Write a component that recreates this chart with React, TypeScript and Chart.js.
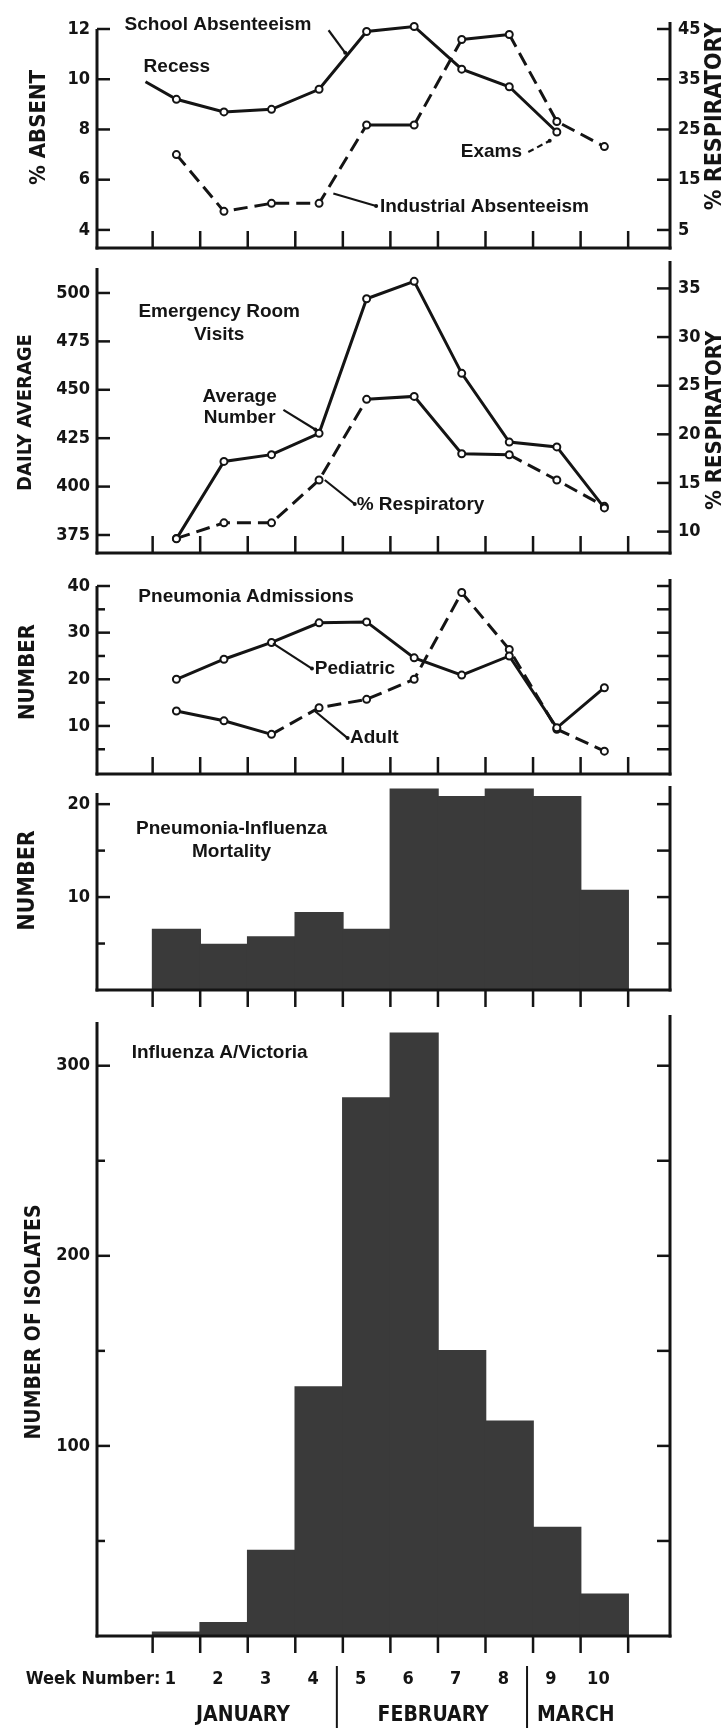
import { useEffect, useRef } from 'react';
import { Chart, registerables } from 'chart.js';

Chart.register(...registerables);

const INK = '#141414';
const BAR = '#3a3a3a';
const NARROW = '"Liberation Sans Narrow", "DejaVu Sans Condensed", "Liberation Sans", sans-serif';
const SANS = '"Liberation Sans", Arial, sans-serif';

// weeks 1..10, tick marks sit on the week borders
const weeks = [1, 2, 3, 4, 5, 6, 7, 8, 9, 10];
const weekEdges = [0.5, 1.5, 2.5, 3.5, 4.5, 5.5, 6.5, 7.5, 8.5, 9.5, 10.5];
const months = ['JANUARY', 'FEBRUARY', 'MARCH'];
const monthCenters = [2.4, 6.4, 9.4];
const monthBreaks = [4.5, 8.5];

// panel 1: absenteeism (school curve starts before week 1, unmarked)
const schoolWeeks = [0.35, 1, 2, 3, 4, 5, 6, 7, 8, 9];
const schoolAbsent = [9.9, 9.2, 8.7, 8.8, 9.6, 11.9, 12.1, 10.4, 9.7, 7.9];
const industrialResp = [20, 8.7, 10.3, 10.3, 25.9, 25.9, 42.9, 43.9, 26.6, 21.6];
const absentTicks = [4, 6, 8, 10, 12];
const absentRespTicks = [5, 15, 25, 35, 45];

// panel 2: emergency room visits
const erAverage = [373, 413, 416.5, 427.5, 497, 506, 458.5, 423, 420.5, 389];
const erResp = [9.3, 10.9, 10.9, 15.3, 23.6, 23.9, 18, 17.9, 15.3, 12.6];
const erTicks = [375, 400, 425, 450, 475, 500];
const erRespTicks = [10, 15, 20, 25, 30, 35];

// panel 3: pneumonia admissions
const pediatric = [20, 24.3, 27.9, 32.1, 32.3, 24.6, 20.9, 25, 9.6, 18.2];
const adult = [13.2, 11.1, 8.2, 13.9, 15.7, 20, 38.6, 26.4, 9.3, 4.6];
const admissionTicks = [10, 20, 30, 40];
const admissionMinor = [5, 15, 25, 35];

// panel 4: pneumonia-influenza mortality
const mortality = [6.5, 4.9, 5.7, 8.3, 6.5, 21.6, 20.8, 21.6, 20.8, 10.7];
const mortalityTicks = [10, 20];
const mortalityMinor = [5, 15];

// panel 5: influenza A/Victoria isolates
const isolates = [2, 7, 45, 131, 283, 317, 150, 113, 57, 22];
const isolateTicks = [100, 200, 300];
const isolateMinor = [50, 150, 250];

type AxisId = 'y' | 'y1';
type Note = { text: string; x: number; y: number; axis?: AxisId; align?: CanvasTextAlign };
type Leader = { from: [number, number]; to: [number, number]; axis?: AxisId; dashed?: boolean };
type Title = { text: string; x: number; dy: number; size?: number };
type Spec = {
  leftMinor?: number[];
  rightTicks?: number[];
  xOutside?: boolean;
  leftTitle: Title;
  rightTitle?: Title;
  notes?: Note[];
  leaders?: Leader[];
  weekAxis?: boolean;
};

const lineStyle = {
  borderColor: INK,
  borderWidth: 3,
  pointRadius: 3.5,
  pointBorderWidth: 2,
  pointBackgroundColor: '#fff',
  pointBorderColor: INK,
  tension: 0,
  fill: false,
  clip: false as const,
};

const barStyle = {
  backgroundColor: BAR,
  borderWidth: 0,
  inflateAmount: 0.8,
  barPercentage: 1,
  categoryPercentage: 1,
  clip: false as const,
};

const dashOn = (idx: number[]) => (ctx: any) => (idx.includes(ctx.p0DataIndex) ? [14, 7] : undefined);

const xAxis = () => ({ type: 'linear' as const, min: -0.67, max: 11.38, display: false, offset: false });

const yAxis = (position: 'left' | 'right', min: number, max: number, ticks: number[], width: number) => ({
  type: 'linear' as const,
  position,
  min,
  max,
  grid: { display: false, drawTicks: false },
  border: { display: false },
  ticks: {
    autoSkip: false,
    padding: position === 'left' ? 7 : 8,
    color: INK,
    font: { family: NARROW, size: 18, weight: 'bold' as const },
  },
  afterBuildTicks: (axis: any) => {
    axis.ticks = ticks.map((value) => ({ value }));
  },
  afterFit: (axis: any) => {
    axis.width = width;
    axis.paddingTop = 0;
    axis.paddingBottom = 0;
  },
});

const baseOptions = (padding: { top: number; bottom: number; right: number }, scales: any) => ({
  responsive: true,
  maintainAspectRatio: false,
  animation: false as const,
  events: [],
  layout: { padding: { left: 0, ...padding } },
  plugins: { legend: { display: false }, tooltip: { enabled: false } },
  scales,
});

function makePaper(spec: Spec) {
  return {
    id: 'paper',
    afterDatasetsDraw(chart: any) {
      const { ctx, chartArea: a } = chart;
      const sx = chart.scales.x;
      const sy = chart.scales.y;
      const sy1 = chart.scales.y1;
      const pick = (axis?: AxisId) => (axis === 'y1' && sy1 ? sy1 : sy);
      const seg = (x1: number, y1: number, x2: number, y2: number) => {
        ctx.beginPath();
        ctx.moveTo(x1, y1);
        ctx.lineTo(x2, y2);
        ctx.stroke();
      };
      ctx.save();
      ctx.strokeStyle = INK;
      ctx.fillStyle = INK;
      ctx.lineCap = 'butt';

      // frame: left, right and bottom border, no top
      ctx.lineWidth = 3;
      seg(a.left, a.top, a.left, a.bottom + 1.5);
      seg(a.right, a.top - 7, a.right, a.bottom + 1.5);
      seg(a.left - 1.5, a.bottom, a.right + 1.5, a.bottom);

      // inner tick marks
      ctx.lineWidth = 2.5;
      sy.ticks.forEach((t: any) => {
        const py = sy.getPixelForValue(t.value);
        seg(a.left, py, a.left + 13, py);
      });
      (spec.leftMinor ?? []).forEach((v) => {
        const py = sy.getPixelForValue(v);
        seg(a.left, py, a.left + 8, py);
      });
      const rs = sy1 ?? sy;
      const rightVals: number[] = sy1 ? sy1.ticks.map((t: any) => t.value) : spec.rightTicks ?? [];
      rightVals.forEach((v) => {
        const py = rs.getPixelForValue(v);
        seg(a.right - 13, py, a.right, py);
      });
      weekEdges.forEach((v) => {
        const px = sx.getPixelForValue(v);
        if (spec.xOutside) seg(px, a.bottom, px, a.bottom + 17);
        else seg(px, a.bottom, px, a.bottom - 17);
      });

      // leader lines from labels to curves
      ctx.lineWidth = 2.2;
      (spec.leaders ?? []).forEach((l) => {
        const s = pick(l.axis);
        const x1 = sx.getPixelForValue(l.from[0]);
        const y1 = s.getPixelForValue(l.from[1]);
        const x2 = sx.getPixelForValue(l.to[0]);
        const y2 = s.getPixelForValue(l.to[1]);
        ctx.setLineDash(l.dashed ? [6, 4] : []);
        seg(x1, y1, x2, y2);
        ctx.setLineDash([]);
        ctx.beginPath();
        ctx.arc(x2, y2, 2, 0, Math.PI * 2);
        ctx.fill();
      });

      // text labels inside the plot
      ctx.font = `bold 19px ${SANS}`;
      ctx.textBaseline = 'middle';
      (spec.notes ?? []).forEach((n) => {
        ctx.textAlign = n.align ?? 'left';
        ctx.fillText(n.text, sx.getPixelForValue(n.x), pick(n.axis).getPixelForValue(n.y));
      });

      // rotated axis titles, reading upward
      const title = (t: Title) => {
        ctx.save();
        ctx.font = `bold ${t.size ?? 20}px ${NARROW}`;
        ctx.textAlign = 'center';
        ctx.textBaseline = 'middle';
        ctx.translate(t.x, (a.top + a.bottom) / 2 + t.dy);
        ctx.rotate(-Math.PI / 2);
        ctx.fillText(t.text, 0, 0);
        ctx.restore();
      };
      title(spec.leftTitle);
      if (spec.rightTitle) title(spec.rightTitle);

      // week numbers and months under the last panel
      if (spec.weekAxis) {
        ctx.font = `bold 18px ${NARROW}`;
        ctx.textBaseline = 'middle';
        ctx.textAlign = 'center';
        weeks.forEach((w) => ctx.fillText(String(w), sx.getPixelForValue(w) - 6, a.bottom + 43));
        ctx.textAlign = 'right';
        ctx.fillText('Week Number:', sx.getPixelForValue(1) - 16, a.bottom + 43);
        ctx.font = `bold 21px ${NARROW}`;
        ctx.textAlign = 'center';
        months.forEach((m, i) => ctx.fillText(m, sx.getPixelForValue(monthCenters[i]), a.bottom + 80));
        ctx.lineWidth = 2;
        monthBreaks.forEach((b) => {
          const px = sx.getPixelForValue(b) - 6;
          seg(px, a.bottom + 30, px, chart.height);
        });
      }
      ctx.restore();
    },
  };
}

const pts = (xs: number[], ys: number[]) => xs.map((x, i) => ({ x, y: ys[i] }));

function absenceChart() {
  return {
    type: 'line' as const,
    data: {
      datasets: [
        {
          label: 'School Absenteeism',
          data: pts(schoolWeeks, schoolAbsent),
          yAxisID: 'y',
          ...lineStyle,
          pointRadius: (c: any) => (c.dataIndex === 0 ? 0 : 3.5),
        },
        {
          label: 'Industrial Absenteeism',
          data: pts(weeks, industrialResp),
          yAxisID: 'y1',
          ...lineStyle,
          segment: { borderDash: dashOn([0, 1, 2, 3, 5, 7, 8]) },
        },
      ],
    },
    options: baseOptions({ top: 29, bottom: 10, right: 0 }, {
      x: xAxis(),
      y: yAxis('left', 3.28, 12, absentTicks, 97),
      y1: yAxis('right', 1.41, 45, absentRespTicks, 57),
    }),
    plugins: [
      makePaper({
        leftTitle: { text: '% ABSENT', x: 39, dy: -11, size: 22 },
        rightTitle: { text: '% RESPIRATORY', x: 715, dy: -22, size: 23 },
        notes: [
          { text: 'School Absenteeism', x: -0.09, y: 12.15 },
          { text: 'Recess', x: 0.31, y: 10.5 },
          { text: 'Exams', x: 6.98, y: 7.1 },
          { text: 'Industrial Absenteeism', x: 5.28, y: 4.92 },
        ],
        leaders: [
          { from: [4.2, 11.95], to: [4.55, 11.05] },
          { from: [8.4, 7.1], to: [8.85, 7.55], dashed: true },
          { from: [4.3, 5.45], to: [5.2, 4.95] },
        ],
      }),
    ],
  };
}

function erChart() {
  return {
    type: 'line' as const,
    data: {
      datasets: [
        { label: 'Average Number', data: pts(weeks, erAverage), yAxisID: 'y', ...lineStyle },
        {
          label: '% Respiratory',
          data: pts(weeks, erResp),
          yAxisID: 'y1',
          ...lineStyle,
          segment: { borderDash: dashOn([0, 1, 2, 3, 7, 8]) },
        },
      ],
    },
    options: baseOptions({ top: 10, bottom: 12, right: 0 }, {
      x: xAxis(),
      y: yAxis('left', 365.7, 512.9, erTicks, 97),
      y1: yAxis('right', 7.8, 37.1, erRespTicks, 57),
    }),
    plugins: [
      makePaper({
        leftTitle: { text: 'DAILY AVERAGE', x: 26, dy: 2, size: 20 },
        rightTitle: { text: '% RESPIRATORY', x: 715, dy: 10, size: 22 },
        notes: [
          { text: 'Emergency Room', x: 1.9, y: 490.3, align: 'center' },
          { text: 'Visits', x: 1.9, y: 478.3, align: 'center' },
          { text: 'Average', x: 2.33, y: 446.4, align: 'center' },
          { text: 'Number', x: 2.33, y: 435.3, align: 'center' },
          { text: '% Respiratory', x: 4.79, y: 390.5 },
        ],
        leaders: [
          { from: [3.25, 439.6], to: [3.92, 429.5] },
          { from: [4.12, 403.4], to: [4.75, 391] },
        ],
      }),
    ],
  };
}

function admissionsChart() {
  return {
    type: 'line' as const,
    data: {
      datasets: [
        { label: 'Pediatric', data: pts(weeks, pediatric), yAxisID: 'y', ...lineStyle },
        {
          label: 'Adult',
          data: pts(weeks, adult),
          yAxisID: 'y',
          ...lineStyle,
          segment: { borderDash: dashOn([2, 3, 4, 5, 6, 7, 8]) },
        },
      ],
    },
    options: baseOptions({ top: 21, bottom: 5, right: 57 }, {
      x: xAxis(),
      y: yAxis('left', -0.3, 40, admissionTicks, 97),
    }),
    plugins: [
      makePaper({
        leftMinor: admissionMinor,
        rightTicks: [5, 10, 15, 20, 25, 30, 35, 40],
        leftTitle: { text: 'NUMBER', x: 28, dy: -8, size: 22 },
        notes: [
          { text: 'Pneumonia Admissions', x: 0.2, y: 37.7 },
          { text: 'Pediatric', x: 3.91, y: 22.3 },
          { text: 'Adult', x: 4.65, y: 7.4 },
        ],
        leaders: [
          { from: [3.03, 27.7], to: [3.85, 22.3] },
          { from: [3.91, 13.2], to: [4.6, 7.4] },
        ],
      }),
    ],
  };
}

function mortalityChart() {
  return {
    type: 'bar' as const,
    data: { datasets: [{ label: 'Pneumonia-Influenza Mortality', data: pts(weeks, mortality), ...barStyle }] },
    options: baseOptions({ top: 13, bottom: 22, right: 57 }, {
      x: xAxis(),
      y: yAxis('left', 0, 21.2, mortalityTicks, 97),
    }),
    plugins: [
      makePaper({
        leftMinor: mortalityMinor,
        rightTicks: [5, 10, 15, 20],
        xOutside: true,
        leftTitle: { text: 'NUMBER', x: 28, dy: -11, size: 23 },
        notes: [
          { text: 'Pneumonia-Influenza', x: 2.16, y: 17.4, align: 'center' },
          { text: 'Mortality', x: 2.16, y: 14.9, align: 'center' },
        ],
      }),
    ],
  };
}

function isolatesChart() {
  return {
    type: 'bar' as const,
    data: { datasets: [{ label: 'Influenza A/Victoria', data: pts(weeks, isolates), ...barStyle }] },
    options: baseOptions({ top: 10, bottom: 92, right: 57 }, {
      x: xAxis(),
      y: yAxis('left', 0, 323, isolateTicks, 97),
    }),
    plugins: [
      makePaper({
        leftMinor: isolateMinor,
        rightTicks: [50, 100, 150, 200, 250, 300],
        xOutside: true,
        weekAxis: true,
        leftTitle: { text: 'NUMBER OF ISOLATES', x: 35, dy: -7, size: 21 },
        notes: [{ text: 'Influenza A/Victoria', x: 0.06, y: 307 }],
      }),
    ],
  };
}

function Panel({ top, height, make }: { top: number; height: number; make: () => any }) {
  const canvasRef = useRef<HTMLCanvasElement>(null);

  useEffect(() => {
    const canvas = canvasRef.current;
    if (!canvas) return;
    const chart = new Chart(canvas, make());
    return () => chart.destroy();
  }, [make]);

  return (
    <div style={{ position: 'absolute', left: 0, top, width: 727, height }}>
      <canvas ref={canvasRef} />
    </div>
  );
}

const panels = [
  { top: 0, height: 258, make: absenceChart },
  { top: 258, height: 307, make: erChart },
  { top: 565, height: 215, make: admissionsChart },
  { top: 780, height: 232, make: mortalityChart },
  { top: 1012, height: 716, make: isolatesChart },
];

export default function App() {
  return (
    <div style={{ position: 'absolute', left: 0, top: 0, width: 727, height: 1728, background: '#fff' }}>
      {panels.map((p) => (
        <Panel key={p.top} {...p} />
      ))}
    </div>
  );
}
